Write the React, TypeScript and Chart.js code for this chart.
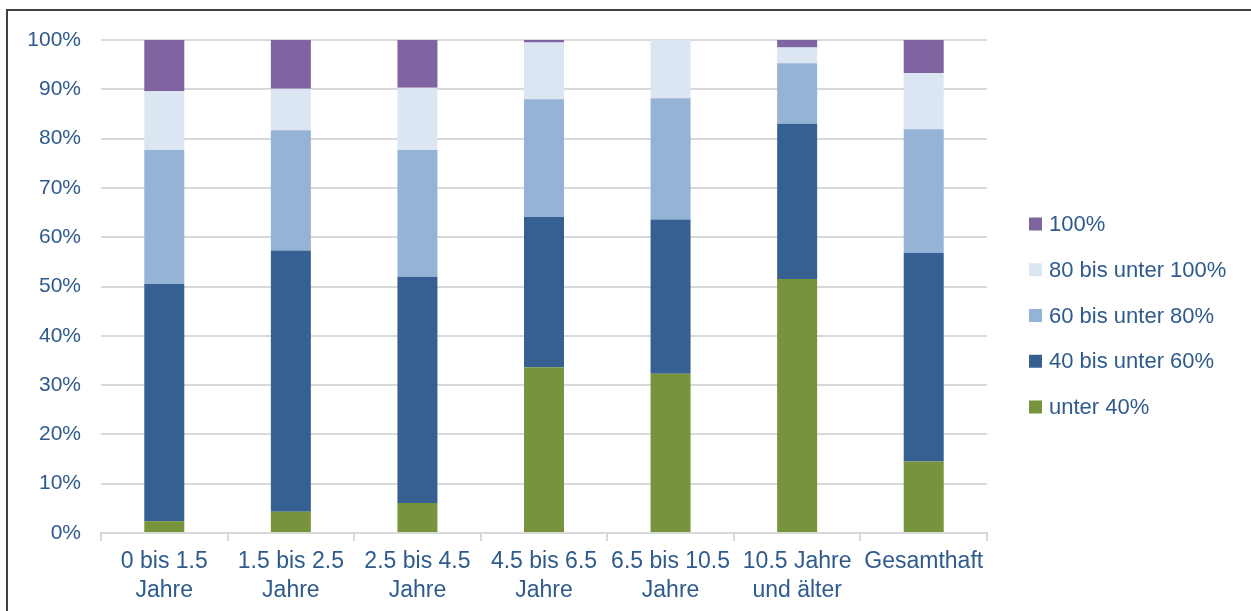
import React, { useEffect, useRef } from "react";
import { Chart, registerables } from "chart.js";

Chart.register(...registerables);

const categories: (string | string[])[] = [
  ["0 bis 1.5", "Jahre"],
  ["1.5 bis 2.5", "Jahre"],
  ["2.5 bis 4.5", "Jahre"],
  ["4.5 bis 6.5", "Jahre"],
  ["6.5 bis 10.5", "Jahre"],
  ["10.5 Jahre", "und älter"],
  "Gesamthaft",
];

const seriesLabels = ["unter 40%", "40 bis unter 60%", "60 bis unter 80%", "80 bis unter 100%", "100%"];
const seriesColors = ["#77933C", "#366092", "#95B3D7", "#DCE6F2", "#8064A2"];

const unter40 = [2.4, 4.3, 6.1, 33.6, 32.3, 51.5, 14.5];
const von40bis60 = [48.1, 53.0, 45.9, 30.5, 31.3, 31.5, 42.3];
const von60bis80 = [27.2, 24.4, 25.7, 23.9, 24.6, 12.3, 25.1];
const von80bis100 = [11.9, 8.4, 12.6, 11.5, 11.8, 3.2, 11.4];
const voll100 = [10.4, 9.9, 9.7, 0.5, 0.0, 1.5, 6.7];

const seriesValues = [unter40, von40bis60, von60bis80, von80bis100, voll100];

const yTicks = [0, 10, 20, 30, 40, 50, 60, 70, 80, 90, 100];

const TEXT = "#2E5A8C";
const FONT = "'Liberation Sans', Arial, sans-serif";

const legendPlugin = {
  id: "customLegend",
  afterDraw(chart: any) {
    const ctx = chart.ctx;
    const area = chart.chartArea;
    const x0 = area.right + 42;
    const yStart = 224;
    const gap = 45.75;
    const ds = chart.data.datasets.slice().reverse();
    ctx.save();
    ctx.font = `22px ${FONT}`;
    ctx.textBaseline = "middle";
    ctx.textAlign = "left";
    ds.forEach((d: any, i: number) => {
      const y = yStart + i * gap;
      ctx.fillStyle = d.backgroundColor;
      ctx.fillRect(x0, y - 6.5, 13, 13);
      ctx.fillStyle = TEXT;
      ctx.fillText(d.label, x0 + 20, y + 1);
    });
    ctx.restore();
  },
};

export default function App() {
  const ref = useRef<HTMLCanvasElement | null>(null);

  useEffect(() => {
    if (!ref.current) return;
    const chart = new Chart(ref.current, {
      type: "bar",
      data: {
        labels: categories,
        datasets: seriesValues.map((vals, i) => ({
          label: seriesLabels[i],
          data: vals,
          backgroundColor: seriesColors[i],
          borderWidth: 0,
          categoryPercentage: 1,
          barPercentage: 0.316,
        })),
      },
      options: {
        animation: false,
        responsive: false,
        layout: { padding: { top: 40, right: 264, bottom: 0, left: 0 } },
        plugins: {
          legend: { display: false },
          tooltip: { enabled: false },
          title: { display: false },
        },
        scales: {
          x: {
            stacked: true,
            offset: true,
            afterFit: (scale: any) => {
              scale.height = 78;
            },
            grid: {
              display: true,
              drawOnChartArea: false,
              drawTicks: true,
              tickLength: 8,
              color: "#D9D9D9",
              lineWidth: 2,
              offset: true,
            },
            border: { display: true, color: "#D9D9D9", width: 2 },
            ticks: {
              color: TEXT,
              font: { family: FONT, size: 23, lineHeight: 1.27 },
              padding: 6,
              maxRotation: 0,
              autoSkip: false,
            },
          },
          y: {
            stacked: true,
            min: 0,
            max: 100,
            afterFit: (scale: any) => {
              scale.width = 101;
            },
            afterBuildTicks: (scale: any) => {
              scale.ticks = yTicks.map((v) => ({ value: v }));
            },
            grid: { color: "#D9D9D9", lineWidth: 2, drawTicks: false },
            border: { display: false },
            ticks: {
              color: TEXT,
              font: { family: FONT, size: 21 },
              padding: 20,
              callback: (v: any) => `${v}%`,
            },
          },
        },
      },
      plugins: [legendPlugin],
    });
    return () => chart.destroy();
  }, []);

  return (
    <div style={{ position: "fixed", left: 0, top: 0, width: 1251, height: 611, background: "#fff", overflow: "hidden" }}>
      <div
        style={{
          position: "absolute",
          left: 6,
          top: 9,
          width: 1300,
          height: 700,
          borderTop: "2px solid #404040",
          borderLeft: "2px solid #404040",
        }}
      />
      <canvas ref={ref} width={1251} height={611} style={{ position: "absolute", left: 0, top: 0, width: 1251, height: 611 }} />
    </div>
  );
}
